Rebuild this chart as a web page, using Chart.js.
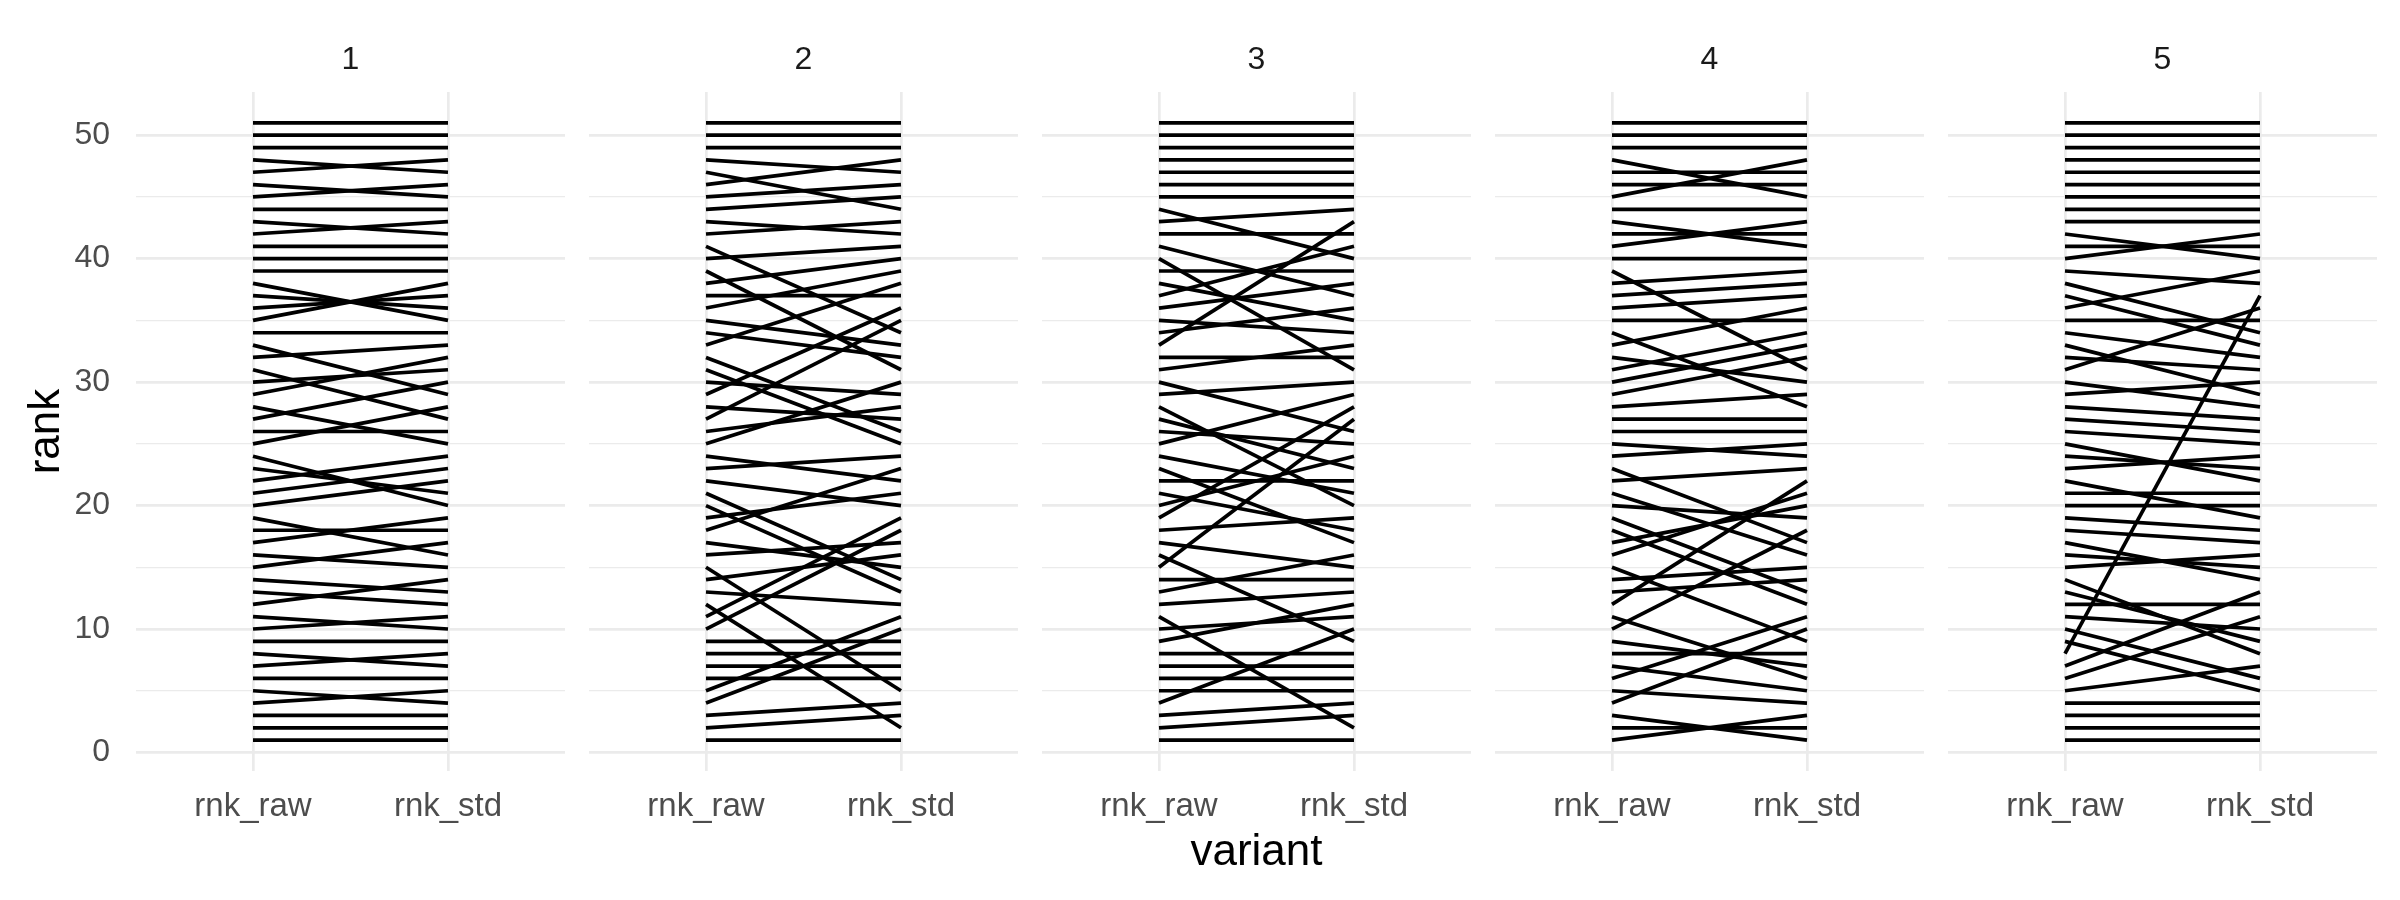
<!DOCTYPE html>
<html>
<head>
<meta charset="utf-8">
<script src="https://cdn.jsdelivr.net/npm/chart.js@4.4.1/dist/chart.umd.min.js"></script>
<style>
html,body{margin:0;padding:0;background:#ffffff;}
#wrap{position:relative;width:2400px;height:900px;overflow:hidden;background:#ffffff;}
#wrap canvas{position:absolute;top:0;}
</style>
</head>
<body>
<div id="wrap"></div>
<script>
// ---------- data ----------
const facetLabels = ['1', '2', '3', '4', '5'];
const variantLabels = ['rnk_raw', 'rnk_std'];
const rawRank = [1,2,3,4,5,6,7,8,9,10,11,12,13,14,15,16,17,18,19,20,21,22,23,24,25,26,27,28,29,30,31,32,33,34,35,36,37,38,39,40,41,42,43,44,45,46,47,48,49,50,51];
// std rank for each raw rank (same order as rawRank), one array per facet
const stdRank1 = [1,2,3,5,4,6,8,7,9,11, 10,14,12,13,17,15,19,18,16,22, 23,24,21,20,28,26,30,25,32,31, 27,33,29,34,38,37,36,35,39,40, 41,43,42,44,46,45,48,47,49,50,51];
const stdRank2 = [1,3,4,10,11,6,7,8,9,18, 19,2,12,16,5,17,15,23,21,13, 14,20,24,22,30,28,35,27,36,29, 25,26,38,32,33,39,37,40,31,41, 34,43,42,45,46,48,44,47,49,50,51];
const stdRank3 = [1,3,4,10,5,6,7,8,12,11, 2,13,16,14,27,9,15,19,28,24, 18,22,17,21,29,25,23,20,30,26, 33,32,43,36,34,38,41,35,39,31, 37,42,44,40,45,46,47,48,49,50,51];
const stdRank4 = [3,2,1,10,4,11,5,8,7,18, 6,22,14,15,9,21,20,12,13,19, 16,23,17,25,24,26,27,29,32,33, 34,30,36,28,35,37,38,39,31,40, 43,42,41,44,48,46,47,45,49,50,51];
const stdRank5 = [1,2,3,4,7,11,13,37,5,6, 10,12,9,8,16,15,14,17,18,20, 21,19,24,23,22,25,26,27,30,28, 36,31,29,32,35,39,33,34,38,42, 41,40,43,44,45,46,47,48,49,50,51];
const yGridValues = [0,5,10,15,20,25,30,35,40,45,50];
const yLabelValues = [0,10,20,30,40,50];
const xTitle = 'variant';
const yTitle = 'rank';

const stdByFacet = [stdRank1, stdRank2, stdRank3, stdRank4, stdRank5];

// ---------- layout ----------
const FONT = '"Liberation Sans", Arial, Helvetica, sans-serif';
const PANEL_W = 429, PANEL_PITCH = 453, FIRST_LEFT = 136, AXIS_W = 136;
const wrap = document.getElementById('wrap');

facetLabels.forEach((lab, i) => {
  const isFirst = i === 0;
  const canvas = document.createElement('canvas');
  const w = isFirst ? AXIS_W + PANEL_W : PANEL_W;
  const left = isFirst ? 0 : FIRST_LEFT + i * PANEL_PITCH;
  canvas.width = w; canvas.height = 900;
  canvas.style.width = w + 'px'; canvas.style.height = '900px';
  canvas.style.left = left + 'px';
  wrap.appendChild(canvas);

  const std = stdByFacet[i];
  const datasets = rawRank.map((r, k) => ({
    data: [{x: 1, y: r}, {x: 2, y: std[k]}],
    borderColor: '#000000',
    borderWidth: 3.7,
    pointRadius: 0,
    pointHoverRadius: 0,
    fill: false,
    tension: 0
  }));

  new Chart(canvas, {
    type: 'line',
    data: { datasets },
    options: {
      responsive: false,
      animation: false,
      devicePixelRatio: 1,
      layout: { padding: 0 },
      plugins: {
        legend: { display: false },
        tooltip: { enabled: false },
        title: {
          display: true,
          text: lab,
          fullSize: false,
          color: '#1A1A1A',
          font: { family: FONT, size: 32, weight: 'normal' },
          padding: { top: 40.6, bottom: 13 }
        }
      },
      scales: {
        x: {
          type: 'linear',
          min: 0.4, max: 2.6,
          afterBuildTicks: s => { s.ticks = [{value: 1}, {value: 2}]; },
          afterFit: s => { s.height = 129; },
          border: { display: false },
          grid: { color: '#EBEBEB', lineWidth: 2.7, drawTicks: false },
          ticks: {
            autoSkip: false, maxRotation: 0,
            padding: 16,
            color: '#4D4D4D',
            font: { family: FONT, size: 33 },
            callback: v => variantLabels[v - 1]
          },
          title: {
            display: i === 2,
            text: xTitle,
            color: '#000000',
            font: { family: FONT, size: 44 },
            padding: { top: 0, bottom: 21 }
          }
        },
        y: {
          type: 'linear',
          min: -1.5, max: 53.5,
          afterBuildTicks: s => { s.ticks = yGridValues.map(v => ({value: v})); },
          afterFit: s => { s.width = isFirst ? AXIS_W : 0; },
          border: { display: false },
          grid: {
            color: '#EBEBEB',
            drawTicks: false,
            lineWidth: ctx => (ctx.tick && yLabelValues.includes(ctx.tick.value)) ? 2.7 : 1.35
          },
          ticks: {
            display: isFirst,
            autoSkip: false,
            padding: 26,
            color: '#4D4D4D',
            font: { family: FONT, size: 32 },
            callback: v => yLabelValues.includes(v) ? String(v) : ''
          },
          title: {
            display: isFirst,
            text: yTitle,
            color: '#000000',
            font: { family: FONT, size: 44 },
            padding: { top: 20, bottom: 0 }
          }
        }
      }
    }
  });
});
</script>
</body>
</html>
